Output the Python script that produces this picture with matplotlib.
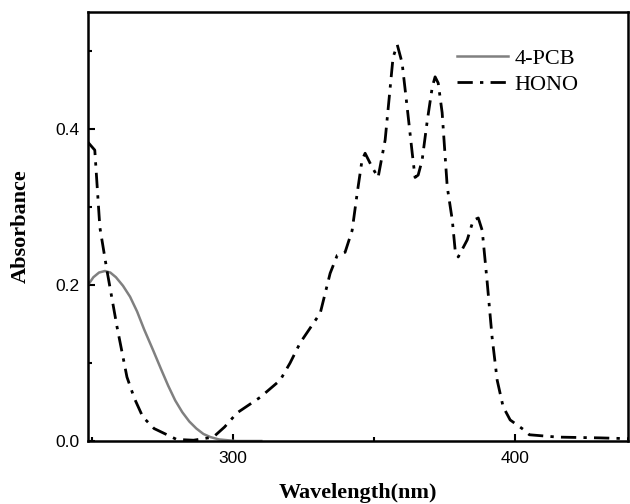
import matplotlib
matplotlib.use("Agg")
import matplotlib.pyplot as plt
from matplotlib.ticker import MultipleLocator, FixedLocator, FormatStrFormatter

# 4-PCB absorption spectrum
pcb_wl = [248.6, 250.5, 252.5, 254.6, 256.5, 258.5, 261.0, 263.5, 266.0, 268.5,
          271.6, 274.5, 277.0, 279.5, 282.0, 284.5, 287.0, 289.5, 292.0, 295.0,
          298.0, 301.0, 310.0]
pcb_abs = [0.200, 0.210, 0.216, 0.218, 0.216, 0.210, 0.199, 0.185, 0.166, 0.143,
           0.117, 0.092, 0.071, 0.052, 0.037, 0.025, 0.016, 0.009, 0.005, 0.002,
           0.001, 0.000, 0.000]

# HONO absorption cross-section spectrum
hono_wl = [248.6, 251.0, 252.8, 255.3, 258.9, 262.4, 265.0, 268.0, 272.0, 276.6,
           280.0, 286.0, 293.0, 297.0, 301.4, 309.6, 316.7, 320.2, 323.8, 330.9,
           334.4, 336.9, 339.7, 342.2, 344.0, 345.7, 346.8, 349.3, 351.4, 353.9,
           355.7, 356.7, 358.2, 359.9, 361.7, 363.5, 364.5, 365.6, 367.0, 368.8,
           370.6, 371.6, 372.7, 374.1, 375.9, 377.7, 378.7, 379.8, 383.0, 385.1,
           386.9, 388.3, 390.0, 391.8, 393.6, 395.7, 398.2, 402.8, 405.0, 415.0,
           430.0, 440.0]
hono_abs = [0.383, 0.373, 0.274, 0.219, 0.146, 0.082, 0.055, 0.031, 0.016, 0.008,
            0.002, 0.001, 0.005, 0.018, 0.036, 0.056, 0.078, 0.100, 0.126, 0.164,
            0.215, 0.238, 0.242, 0.270, 0.318, 0.360, 0.369, 0.351, 0.338, 0.386,
            0.454, 0.492, 0.508, 0.485, 0.428, 0.369, 0.338, 0.341, 0.360, 0.410,
            0.454, 0.467, 0.459, 0.421, 0.326, 0.283, 0.245, 0.236, 0.258, 0.283,
            0.286, 0.270, 0.206, 0.133, 0.078, 0.044, 0.027, 0.015, 0.008, 0.005,
            0.004, 0.003]

x_major = [300, 400]
x_minor = [250, 350]

fig = plt.figure(figsize=(6.3, 5.04), dpi=100)
ax = fig.add_axes([0.1397, 0.125, 0.8573, 0.851])

ax.plot(pcb_wl, pcb_abs, color="#808080", lw=1.8, label="4-PCB")
ax.plot(hono_wl, hono_abs, color="black", lw=2.0,
        linestyle=(0, (5.5, 2.6, 1.2, 2.6)), label="HONO")

ax.set_xlim(248.6, 440)
ax.set_ylim(0, 0.55)

ax.xaxis.set_major_locator(FixedLocator(x_major))
ax.xaxis.set_minor_locator(FixedLocator(x_minor))
ax.yaxis.set_major_locator(MultipleLocator(0.2))
ax.yaxis.set_minor_locator(MultipleLocator(0.1))
ax.yaxis.set_major_formatter(FormatStrFormatter("%.1f"))

ax.tick_params(which="both", direction="in", width=1.5, labelsize=12.5,
               top=False, right=False)
ax.tick_params(which="major", length=5)
ax.tick_params(which="minor", length=3)
ax.tick_params(axis="x", which="major", pad=7)
ax.tick_params(axis="y", which="major", pad=6)
for lab in ax.get_xticklabels() + ax.get_yticklabels():
    lab.set_fontfamily("Liberation Sans")
for s in ax.spines.values():
    s.set_linewidth(1.8)

ax.set_xlabel("Wavelength(nm)", fontfamily="Liberation Serif", fontweight="bold",
              fontsize=16)
ax.set_ylabel("Absorbance", fontfamily="Liberation Serif", fontweight="bold",
              fontsize=16)
ax.xaxis.set_label_coords(0.5, -0.098)
ax.yaxis.set_label_coords(-0.106, 0.5)

ax.legend(loc="upper left", bbox_to_anchor=(0.683, 0.915), frameon=False,
          borderpad=0, borderaxespad=0,
          prop={"family": "Liberation Serif", "size": 16}, handlelength=2.3,
          handletextpad=0.3, labelspacing=0.22)

fig.savefig("out.png", dpi=100)
